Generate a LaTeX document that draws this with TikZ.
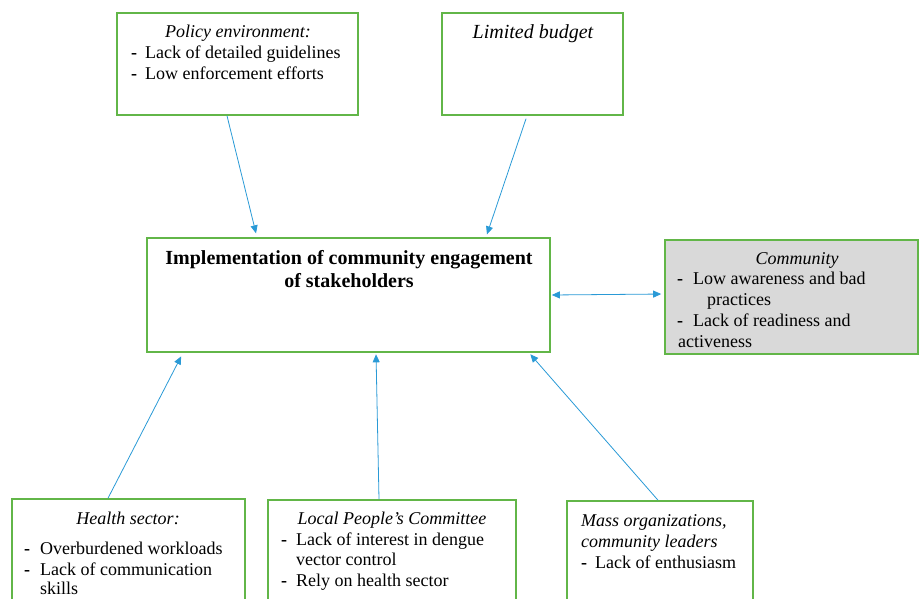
\documentclass[tikz,border=0pt]{standalone}
\usepackage{fontspec}
\setmainfont{Liberation Serif}
\usetikzlibrary{arrows.meta}
\definecolor{boxgreen}{RGB}{98,182,72}
\definecolor{arrblue}{RGB}{42,154,214}
\definecolor{boxgray}{RGB}{217,217,217}
\tikzset{
  box/.style={draw=boxgreen, line width=1.6pt, inner sep=0pt, rectangle},
  arr/.style={draw=arrblue, line width=0.8pt, -{Triangle[length=8pt,width=7pt]}},
  darr/.style={draw=arrblue, line width=0.8pt, {Triangle[length=8pt,width=7pt]}-{Triangle[length=8pt,width=7pt]}},
  txt/.style={inner sep=0pt, anchor=base west, font=\fontsize{18}{21}\selectfont},
  ctxt/.style={inner sep=0pt, anchor=base, font=\fontsize{18}{21}\selectfont},
  bigtxt/.style={inner sep=0pt, anchor=base, font=\fontsize{20}{23}\selectfont},
}
\begin{document}
\begin{tikzpicture}[x=1pt,y=-1pt]
\useasboundingbox (0,0) rectangle (919,598);
% boxes
\node[box, minimum width=241pt, minimum height=102pt] (pol) at (237.5,64) {};
\node[box, minimum width=181pt, minimum height=102pt] (bud) at (532.5,64) {};
\node[box, minimum width=403pt, minimum height=114pt] (ctr) at (348.5,295) {};
\node[box, fill=boxgray, minimum width=253pt, minimum height=114pt] (com) at (791.5,297) {};
\node[box, minimum width=233pt, minimum height=112pt] (hea) at (128.5,555) {};
\node[box, minimum width=248pt, minimum height=112pt] (loc) at (392,556) {};
\node[box, minimum width=186pt, minimum height=112pt] (mas) at (660,557) {};
% policy text
\node[ctxt] (p0) at (238,37) {\itshape Policy environment:};
\node[txt] (p1d) at (131,58) {\bfseries -};
\node[txt] (p1) at (145,58) {Lack of detailed guidelines};
\node[txt] (p2d) at (131,79) {\bfseries -};
\node[txt] (p2) at (145,79) {Low enforcement efforts};
% budget
\node[bigtxt] (b0) at (533,38) {\itshape Limited budget};
% center
\node[bigtxt] (c1) at (349,264) {\bfseries Implementation of community engagement};
\node[bigtxt] (c2) at (349,287) {\bfseries of stakeholders};
% community
\node[ctxt] (m0) at (797,264) {\itshape Community};
\node[txt] (m1d) at (677,284) {\bfseries -};
\node[txt] (m1) at (693,284) {Low awareness and bad};
\node[txt] (m2) at (707,305) {practices};
\node[txt] (m3d) at (677,326) {\bfseries -};
\node[txt] (m3) at (693,326) {Lack of readiness and};
\node[txt] (m4) at (678,347) {activeness};
% health
\node[ctxt] (h0) at (128,524) {\itshape Health sector:};
\node[txt] (h1d) at (24,554) {\bfseries -};
\node[txt] (h1) at (40,554) {Overburdened workloads};
\node[txt] (h2d) at (24,575) {\bfseries -};
\node[txt] (h2) at (40,575) {Lack of communication};
\node[txt] (h3) at (40,594) {skills};
% local
\node[ctxt] (l0) at (392,524) {\itshape Local People’s Committee};
\node[txt] (l1d) at (281,545) {\bfseries -};
\node[txt] (l1) at (296,545) {Lack of interest in dengue};
\node[txt] (l2) at (296,565) {vector control};
\node[txt] (l3d) at (281,586) {\bfseries -};
\node[txt] (l3) at (296,586) {Rely on health sector};
% mass
\node[txt] (s0) at (581,526) {\itshape Mass organizations,};
\node[txt] (s1) at (581,547) {\itshape community leaders};
\node[txt] (s2d) at (581,568) {\bfseries -};
\node[txt] (s2) at (595,568) {Lack of enthusiasm};
% arrows
\draw[arr, shorten >=4pt] ([xshift=-10.5pt]pol.south) -- ([xshift=-91.5pt]ctr.north);
\draw[arr, shorten <=3pt, shorten >=3pt] ([xshift=-5.5pt]bud.south) -- ([xshift=137.5pt]ctr.north);
\draw[darr, shorten <=1pt, shorten >=3pt] (ctr.east) -- ([yshift=3pt]com.west);
\draw[arr, shorten >=4pt] ([xshift=-20.5pt]hea.north) -- ([xshift=-165.5pt]ctr.south);
\draw[arr, shorten >=1.5pt] ([xshift=-13pt]loc.north) -- ([xshift=27.5pt]ctr.south);
\draw[arr, shorten >=2pt] ([xshift=-2pt]mas.north) -- ([xshift=180.5pt]ctr.south);
\end{tikzpicture}
\end{document}
